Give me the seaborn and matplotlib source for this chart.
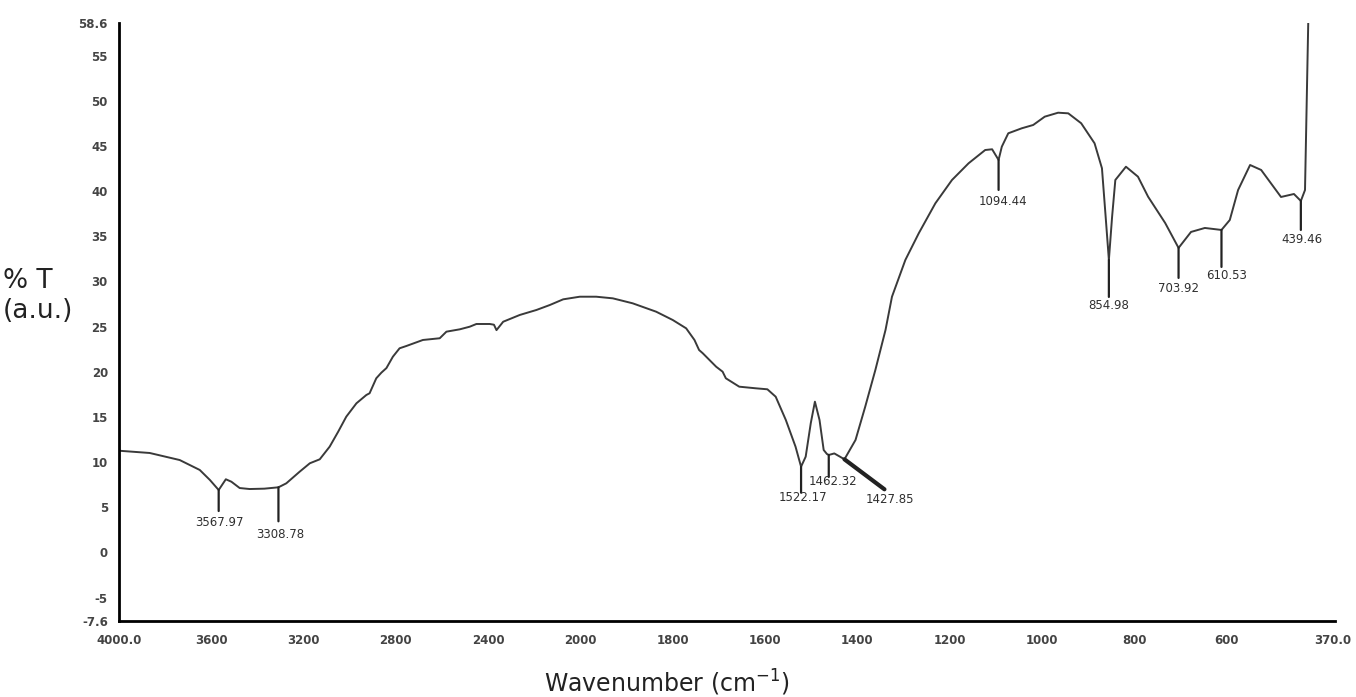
import numpy as np
import pandas as pd
import seaborn as sns
import matplotlib.pyplot as plt

# FTIR spectrum (wavenumber in cm-1, %T)
wavenumber = [4000, 3867, 3737, 3650, 3606, 3568, 3537, 3513, 3477, 3434, 3370, 3309,
              3275, 3217, 3173, 3130, 3087, 3050, 3015, 2971, 2928, 2914, 2885, 2863,
              2841, 2813, 2784, 2755, 2683, 2610, 2581, 2523, 2480, 2451, 2393, 2375,
              2364, 2335, 2263, 2191, 2133, 2075, 2003, 1966, 1930, 1887, 1836, 1800,
              1771, 1753, 1743, 1735, 1706, 1692, 1685, 1656, 1620, 1595, 1577, 1555,
              1534, 1522, 1512, 1501, 1492, 1482, 1473, 1466, 1462, 1450, 1438, 1428,
              1404, 1383, 1361, 1339, 1325, 1296, 1267, 1231, 1195, 1159, 1123, 1108,
              1094, 1087, 1073, 1044, 1019, 994, 965, 943, 915, 886, 870, 862,
              855, 848, 841, 818, 792, 770, 733, 704, 677, 647, 611, 593,
              575, 549, 525, 482, 454, 439, 430, 423]
transmittance = [11.25, 11.0, 10.22, 9.12, 8.01, 6.90, 8.09, 7.82, 7.12, 7.01, 7.05, 7.20,
                 7.64, 8.93, 9.86, 10.30, 11.70, 13.36, 15.02, 16.50, 17.42, 17.61, 19.27, 19.89,
                 20.40, 21.66, 22.59, 22.84, 23.51, 23.70, 24.43, 24.69, 24.98, 25.28, 25.28, 25.20,
                 24.60, 25.53, 26.28, 26.83, 27.38, 28.01, 28.30, 28.30, 28.12, 27.57, 26.64, 25.72,
                 24.80, 23.51, 22.40, 22.04, 20.55, 20.00, 19.27, 18.34, 18.16, 18.05, 17.23, 14.65,
                 11.70, 9.48, 10.59, 14.29, 16.68, 14.65, 11.33, 10.89, 10.78, 10.95, 10.60, 10.30,
                 12.44, 16.12, 20.19, 24.62, 28.30, 32.37, 35.32, 38.64, 41.22, 43.07, 44.54, 44.62,
                 43.44, 44.91, 46.39, 46.94, 47.31, 48.23, 48.67, 48.60, 47.50, 45.28, 42.52, 37.16,
                 32.37, 37.16, 41.22, 42.69, 41.59, 39.37, 36.46, 33.70, 35.47, 35.91, 35.69, 36.79,
                 40.11, 42.88, 42.33, 39.34, 39.67, 38.90, 40.11, 58.60]

# labelled peaks
peak_labels = ["3567.97", "3308.78", "1522.17", "1462.32", "1427.85",
               "1094.44", "854.98", "703.92", "610.53", "439.46"]
peak_wn = [3568, 3309, 1522, 1462, 1428, 1094, 855, 704, 611, 439]
peak_T = [6.90, 7.20, 9.48, 10.78, 10.30, 43.44, 32.37, 33.70, 35.69, 38.90]
# marker line end and label centre, in pixels from the peak point
line_ends = [(0, -21), (0, -34), (0, -26), (0, -22), (40, -30),
             (0, -30), (0, -37), (0, -30), (0, -37), (0, -29)]
label_offsets = [(1, -32), (2, -47), (2, -31), (4, -27), (45, -40),
                 (4, -42), (0, -46), (0, -41), (5, -46), (1, -39)]

xticks = [4000, 3600, 3200, 2800, 2400, 2000, 1800, 1600, 1400, 1200, 1000, 800, 600, 370]
xticklabels = ["4000.0", "3600", "3200", "2800", "2400", "2000", "1800", "1600",
               "1400", "1200", "1000", "800", "600", "370.0"]
yticks = [-7.6, -5, 0, 5, 10, 15, 20, 25, 30, 35, 40, 45, 50, 55, 58.6]
yticklabels = ["-7.6", "-5", "0", "5", "10", "15", "20", "25", "30", "35",
               "40", "45", "50", "55", "58.6"]

df = pd.DataFrame({"wn": wavenumber, "T": transmittance})

sns.set_style("white")
plt.rcParams["font.family"] = ["DejaVu Sans"]

fig = plt.figure(figsize=(13.56, 6.97), dpi=100)
ax = fig.add_axes([119 / 1356, 76 / 697, (1335 - 119) / 1356, (621 - 23) / 697])

sns.lineplot(data=df, x="wn", y="T", ax=ax, color="#3a3a3a", linewidth=1.4)


# half-scale above 2000 cm-1, like the instrument output
def fwd(x):
    x = np.asarray(x, dtype=float)
    return np.where(x > 2000, 2000 + (x - 2000) / 2, x)


def inv(x):
    x = np.asarray(x, dtype=float)
    return np.where(x > 2000, 2000 + (x - 2000) * 2, x)


ax.set_xscale("function", functions=(fwd, inv))
ax.set_xlim(4000, 365)
ax.set_ylim(-7.6, 58.6)

ax.set_xticks(xticks)
ax.set_xticklabels(xticklabels)
ax.set_yticks(yticks)
ax.set_yticklabels(yticklabels)
ax.minorticks_off()

ax.tick_params(axis="x", direction="out", length=6, width=1.5, pad=3,
               labelsize=8.5, labelcolor="#444444", color="black")
ax.tick_params(axis="y", direction="out", length=3, width=1.5, pad=5,
               labelsize=8.5, labelcolor="#444444", color="black")
for lbl in ax.get_xticklabels() + ax.get_yticklabels():
    lbl.set_fontweight("bold")

for side in ["top", "right"]:
    ax.spines[side].set_visible(False)
for side in ["left", "bottom"]:
    ax.spines[side].set_linewidth(2)
    ax.spines[side].set_color("black")

ax.set_xlabel("")
ax.set_ylabel("")

# peak markers
for lab, x, y, end, off in zip(peak_labels, peak_wn, peak_T, line_ends, label_offsets):
    lw = 3 if lab == "1427.85" else 1.6
    ax.annotate("", xy=(x, y), xytext=end, textcoords="offset pixels",
                arrowprops=dict(arrowstyle="-", color="#222222", lw=lw,
                                shrinkA=0, shrinkB=0))
    ax.annotate(lab, xy=(x, y), xytext=off, textcoords="offset pixels",
                ha="center", va="center", fontsize=8.5, color="#2f2f2f")

fig.text(3 / 1356, 1 - 296 / 697, "% T\n(a.u.)", ha="left", va="center",
         fontsize=19, color="#222222", linespacing=1.15)
fig.text(667 / 1356, 1 - 683 / 697, "Wavenumber (cm$^{-1}$)", ha="center",
         va="center", fontsize=17, color="#222222")

fig.savefig("out.png", dpi=100, facecolor="white")
